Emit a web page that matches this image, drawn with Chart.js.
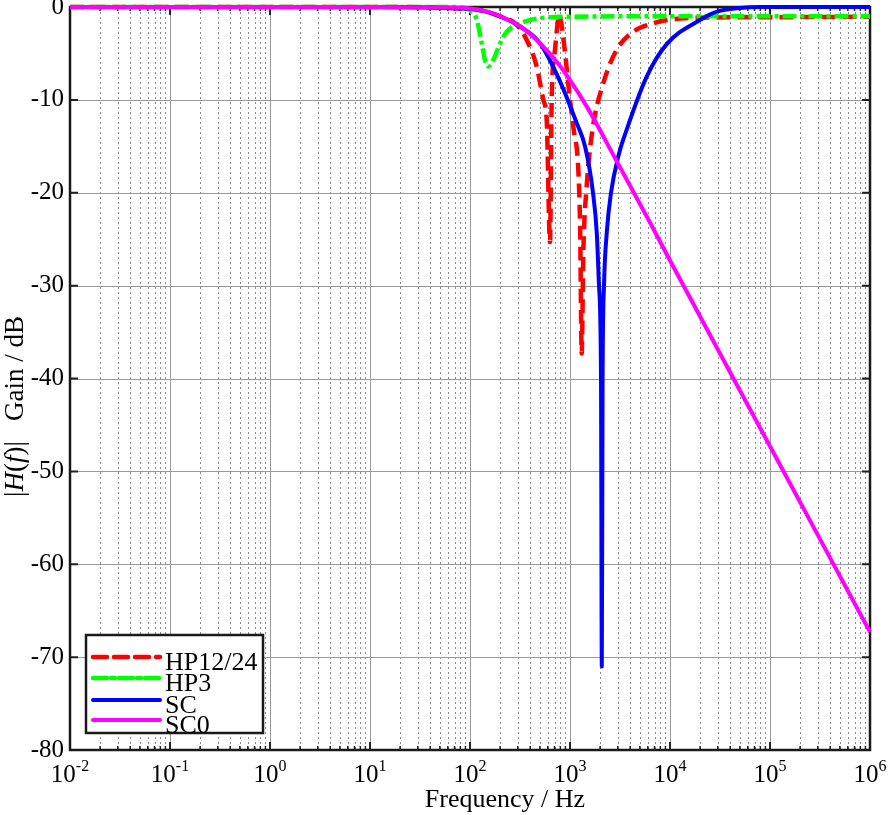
<!DOCTYPE html>
<html>
<head>
<meta charset="utf-8">
<script src="https://cdn.jsdelivr.net/npm/chart.js@4"></script>
<style>
  html, body { margin:0; padding:0; background:#fff; }
  canvas { display:block; }
</style>
</head>
<body>
<canvas id="gainChart" width="894" height="815"></canvas>
<script>
// ---- data (Hz, dB) ----
const seriesNames = ["HP12/24", "HP3", "SC", "SC0"];

const hp1224Freq = [0.01, 10, 100, 200, 293, 369, 464, 541, 585, 631, 656, 708, 782, 845, 1000, 1080, 1259, 1309, 1359, 1468, 1679, 2153, 2931, 4295, 6808, 9268, 19950, 100000, 1000000];
const hp1224Gain = [0, 0, -0.2, -1.0, -1.9, -3.55, -6.4, -10, -12.2, -25.3, -10, -4.6, -0.86, -2.8, -10, -12.9, -22.9, -37.3, -26.5, -19.3, -13.2, -8.2, -4.6, -2.66, -1.76, -1.4, -1.15, -1.1, -1.05];

const hp3Freq = [0.01, 10, 60, 90, 104, 117, 131, 141, 152, 171, 200, 233, 316, 501, 1000, 10000, 1000000];
const hp3Gain = [0, 0, 0, -0.1, -0.5, -1.4, -3.9, -5.7, -6.4, -5.7, -3.9, -2.66, -1.76, -1.2, -1.05, -1.0, -1.0];

const scFreq = [0.01, 10, 100, 200, 316, 501, 794, 1167, 1413, 1698, 1854, 1950, 2042, 2080, 2118, 2188, 2344, 2570, 3055, 3690, 5848, 9268, 19950, 29500, 50000, 79400, 1000000];
const scGain = [0, 0, -0.2, -1.0, -2.1, -3.9, -8.0, -12.5, -15, -20, -24.4, -30, -40, -71, -40, -30, -24, -20, -16, -13.2, -7.5, -4.0, -1.4, -0.5, -0.1, 0, 0];

const sc0Freq = [0.01, 10, 50, 100, 150, 233, 341, 501, 736, 962, 1468, 2931, 6310, 10000, 100000, 1000000];
const sc0Gain = [0, 0, -0.05, -0.15, -0.5, -1.3, -2.3, -3.9, -5.9, -7.6, -10.7, -16.6, -23.2, -27.3, -47.3, -67.3];

const xTickExps = [-2, -1, 0, 1, 2, 3, 4, 5, 6];
const yTicks = [0, -10, -20, -30, -40, -50, -60, -70, -80];

// ---- styles ----
const serif = '"Liberation Serif", "Times New Roman", serif';

function toPoints(fs, gs){
    return fs.map((f,i)=>({x:f, y:gs[i]}));
}

const datasets = [
    {label:seriesNames[0], data:toPoints(hp1224Freq, hp1224Gain), borderColor:"#ff0000", borderWidth:4.5, borderDash:[14,7], order:4},
    {label:seriesNames[1], data:toPoints(hp3Freq, hp3Gain), borderColor:"#00ff00", borderWidth:4.5, borderDash:[14,4,4,4], order:3},
    {label:seriesNames[2], data:toPoints(scFreq, scGain), borderColor:"#0000ff", borderWidth:4, order:2},
    {label:seriesNames[3], data:toPoints(sc0Freq, sc0Gain), borderColor:"#ff00ff", borderWidth:4, order:1}
];
datasets.forEach(d=>{
    d.pointRadius = 0;
    d.fill = false;
    d.cubicInterpolationMode = "monotone";
    d.borderJoinStyle = "round";
    d.clip = 6;
});

// grid, box and ticks under the curves
const framePlugin = {
    id:"frame",
    beforeDatasetsDraw(chart){
        const {ctx, chartArea:a, scales:{x, y}} = chart;
        ctx.save();

        // minor x grid (dotted)
        ctx.strokeStyle = "#8a8a8a";
        ctx.lineWidth = 1;
        ctx.setLineDash([2,3]);
        for(let e = xTickExps[0]; e < xTickExps[xTickExps.length-1]; e++){
            for(let m = 2; m <= 9; m++){
                const px = Math.round(x.getPixelForValue(m * Math.pow(10,e))) + 0.5;
                ctx.beginPath(); ctx.moveTo(px, a.top); ctx.lineTo(px, a.bottom); ctx.stroke();
            }
        }
        // major grid (solid)
        ctx.setLineDash([]);
        ctx.strokeStyle = "#999999";
        xTickExps.forEach(e=>{
            const px = Math.round(x.getPixelForValue(Math.pow(10,e))) + 0.5;
            ctx.beginPath(); ctx.moveTo(px, a.top); ctx.lineTo(px, a.bottom); ctx.stroke();
        });
        yTicks.forEach(v=>{
            const py = Math.round(y.getPixelForValue(v)) + 0.5;
            ctx.beginPath(); ctx.moveTo(a.left, py); ctx.lineTo(a.right, py); ctx.stroke();
        });

        // ticks (inward)
        ctx.strokeStyle = "#222";
        ctx.lineWidth = 1.5;
        for(let e = xTickExps[0]; e < xTickExps[xTickExps.length-1]; e++){
            for(let m = 2; m <= 9; m++){
                const px = x.getPixelForValue(m * Math.pow(10,e));
                ctx.beginPath();
                ctx.moveTo(px, a.bottom); ctx.lineTo(px, a.bottom - 4);
                ctx.moveTo(px, a.top); ctx.lineTo(px, a.top + 4);
                ctx.stroke();
            }
        }
        ctx.lineWidth = 2;
        xTickExps.forEach(e=>{
            const px = x.getPixelForValue(Math.pow(10,e));
            ctx.beginPath();
            ctx.moveTo(px, a.bottom); ctx.lineTo(px, a.bottom - 8);
            ctx.moveTo(px, a.top); ctx.lineTo(px, a.top + 8);
            ctx.stroke();
        });
        yTicks.forEach(v=>{
            const py = y.getPixelForValue(v);
            ctx.beginPath();
            ctx.moveTo(a.left, py); ctx.lineTo(a.left + 8, py);
            ctx.moveTo(a.right, py); ctx.lineTo(a.right - 8, py);
            ctx.stroke();
        });

        // box
        ctx.strokeStyle = "#1a1a1a";
        ctx.lineWidth = 2.5;
        ctx.strokeRect(a.left, a.top, a.right - a.left, a.bottom - a.top);
        ctx.restore();
    },
    afterDraw(chart){
        const {ctx, chartArea:a, scales:{x}} = chart;
        ctx.save();
        ctx.fillStyle = "#000";
        ctx.textBaseline = "alphabetic";

        // x tick labels 10^n
        xTickExps.forEach(e=>{
            const px = x.getPixelForValue(Math.pow(10,e));
            ctx.font = "25px " + serif;
            const w1 = ctx.measureText("10").width;
            ctx.font = "16px " + serif;
            const w2 = ctx.measureText(String(e)).width;
            const left = px - (w1 + w2) / 2;
            ctx.font = "25px " + serif;
            ctx.textAlign = "left";
            ctx.fillText("10", left, a.bottom + 32);
            ctx.font = "16px " + serif;
            ctx.fillText(String(e), left + w1, a.bottom + 21);
        });

        // x title
        ctx.font = "26px " + serif;
        ctx.textAlign = "center";
        ctx.fillText("Frequency / Hz", 505, 807);

        // y title with italic parts, read from the bottom up
        const parts = [["|",false],["H",true],["(",false],["f",true],[")|   Gain / dB",false]];
        const fontOf = it => (it ? "italic " : "") + "27px " + serif;
        ctx.translate(23, 497);
        ctx.rotate(-Math.PI/2);
        ctx.textAlign = "left";
        let cx = 0;
        parts.forEach(p=>{
            ctx.font = fontOf(p[1]);
            ctx.fillText(p[0], cx, 0);
            cx += ctx.measureText(p[0]).width;
        });
        ctx.restore();

        // legend
        ctx.save();
        const lx = 86, ly = 635, lw = 177, lh = 98;
        ctx.fillStyle = "#fff";
        ctx.fillRect(lx, ly, lw, lh);
        ctx.strokeStyle = "#1a1a1a";
        ctx.lineWidth = 2.5;
        ctx.strokeRect(lx, ly, lw, lh);
        const rows = [657, 678, 700, 720];
        chart.data.datasets.forEach((d,i)=>{
            ctx.strokeStyle = d.borderColor;
            ctx.lineWidth = d.borderWidth;
            ctx.lineCap = "round";
            ctx.setLineDash(d.borderDash || []);
            ctx.beginPath();
            ctx.moveTo(93, rows[i]); ctx.lineTo(160, rows[i]);
            ctx.stroke();
            ctx.setLineDash([]);
            ctx.fillStyle = "#000";
            ctx.font = "26px " + serif;
            ctx.textAlign = "left";
            ctx.fillText(d.label, 165, rows[i] + 13);
        });
        ctx.restore();
    }
};

new Chart(document.getElementById("gainChart"), {
    type:"line",
    data:{datasets:datasets},
    options:{
        responsive:false,
        animation:false,
        events:[],
        layout:{padding:{top:7, right:24, left:0, bottom:0}},
        plugins:{legend:{display:false}, tooltip:{enabled:false}},
        scales:{
            x:{
                type:"logarithmic",
                min:0.01,
                max:1000000,
                grid:{display:false, drawTicks:false},
                border:{display:false},
                ticks:{display:false},
                afterFit(s){ s.height = 65; s.paddingLeft = 0; s.paddingRight = 0; }
            },
            y:{
                type:"linear",
                min:-80,
                max:0,
                grid:{display:false, drawTicks:false},
                border:{display:false},
                ticks:{
                    stepSize:10,
                    padding:6,
                    color:"#000",
                    font:{family:serif, size:25},
                    callback:v=>String(v)
                },
                afterFit(s){ s.width = 70; s.paddingTop = 0; s.paddingBottom = 0; }
            }
        }
    },
    plugins:[framePlugin]
});
</script>
</body>
</html>
